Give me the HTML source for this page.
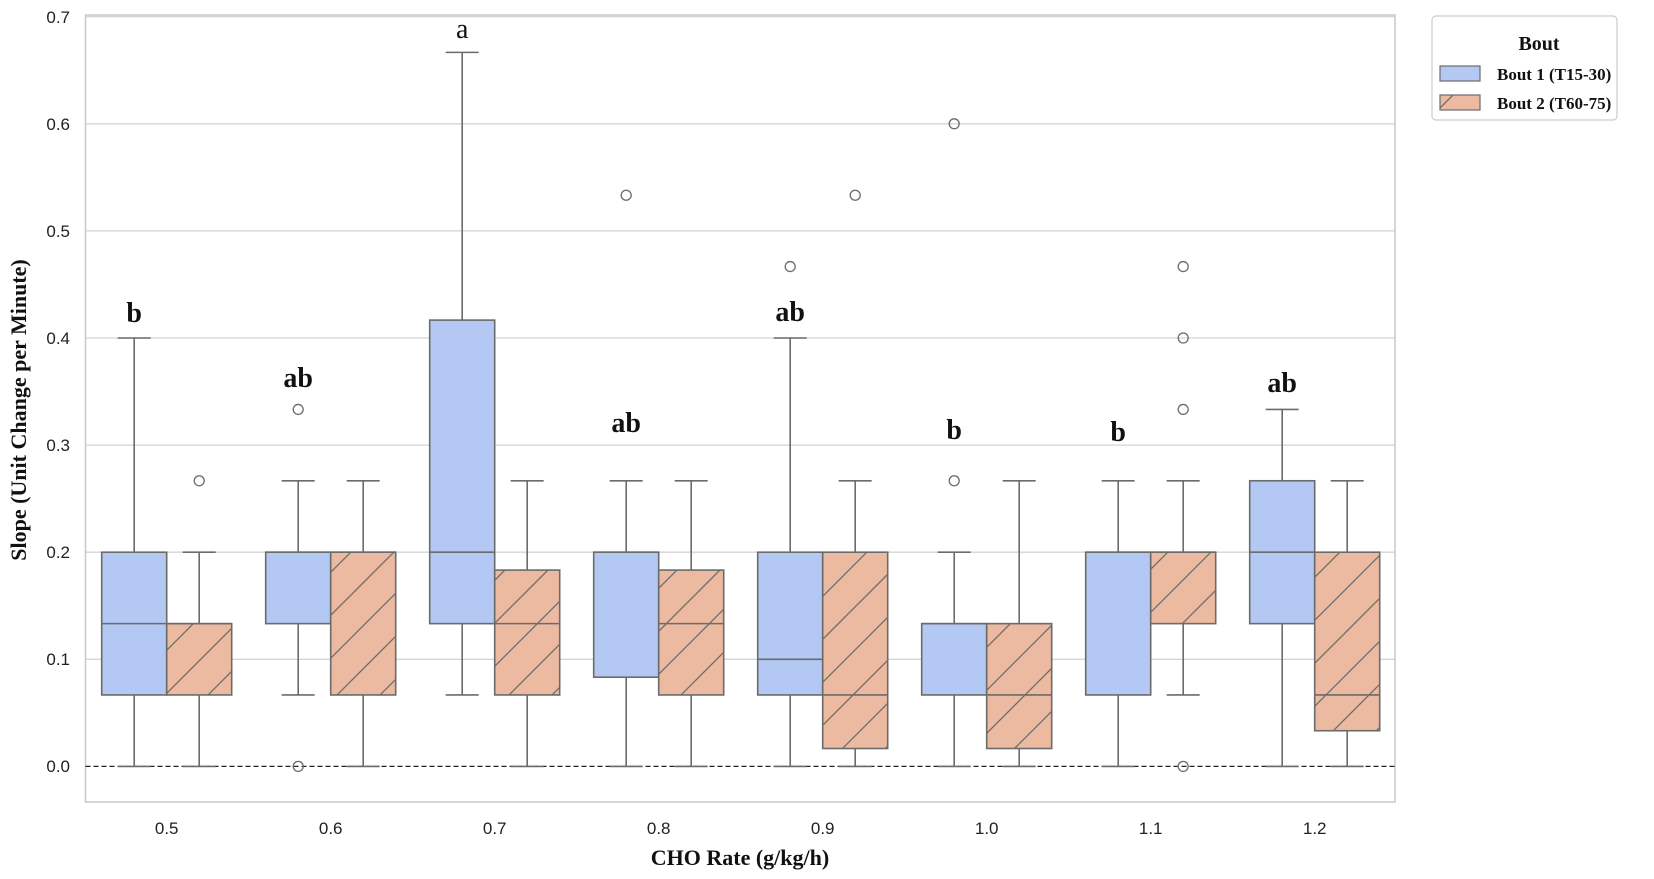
<!DOCTYPE html>
<html><head><meta charset="utf-8"><style>body{margin:0;background:#fff}svg{display:block}</style></head>
<body>
<svg id="s" width="1654" height="879" xmlns="http://www.w3.org/2000/svg">
<defs>
<pattern id="h" patternUnits="userSpaceOnUse" width="43" height="43" x="0" y="0">
<rect width="43" height="43" fill="#ecb9a1"/>
<path d="M-5,48 L48,-5" stroke="#6b6b6b" stroke-width="1.3"/>
<path d="M-48,48 L5,-5" stroke="#6b6b6b" stroke-width="1.3"/>
<path d="M38,48 L91,-5" stroke="#6b6b6b" stroke-width="1.3"/>
</pattern>
</defs>
<g id="grid"></g>
<rect x="85.5" y="15" width="1309.5" height="787" fill="none" stroke="#c8c8c8" stroke-width="1.5"/>
<line x1="85.5" x2="1395" y1="766.4" y2="766.4" stroke="#222" stroke-width="1.2" stroke-dasharray="5,3"/>
<g id="boxes"></g>
<g font-family="Liberation Sans, sans-serif" font-size="17" fill="#222" text-anchor="end">
<text x="70" y="772">0.0</text><text x="70" y="665">0.1</text><text x="70" y="558">0.2</text><text x="70" y="451">0.3</text><text x="70" y="344">0.4</text><text x="70" y="237">0.5</text><text x="70" y="130">0.6</text><text x="70" y="23">0.7</text>
</g>
<g font-family="Liberation Sans, sans-serif" font-size="17" fill="#222" text-anchor="middle">
<text x="166.7" y="834">0.5</text><text x="330.7" y="834">0.6</text><text x="494.7" y="834">0.7</text><text x="658.7" y="834">0.8</text><text x="822.7" y="834">0.9</text><text x="986.7" y="834">1.0</text><text x="1150.7" y="834">1.1</text><text x="1314.7" y="834">1.2</text>
</g>
<text x="740" y="865" font-family="Liberation Serif, serif" font-weight="bold" font-size="22" text-anchor="middle" fill="#111">CHO Rate (g/kg/h)</text>
<text transform="translate(26,410) rotate(-90)" font-family="Liberation Serif, serif" font-weight="bold" font-size="22" text-anchor="middle" fill="#111">Slope (Unit Change per Minute)</text>
<g font-family="Liberation Serif, serif" font-weight="bold" font-size="28" text-anchor="middle" fill="#111">
<text x="134.2" y="322">b</text><text x="298.2" y="387">ab</text><text x="462.2" y="38" font-weight="normal">a</text><text x="626.2" y="432">ab</text><text x="790.2" y="321">ab</text><text x="954.2" y="439">b</text><text x="1118.2" y="441">b</text><text x="1282.2" y="392">ab</text>
</g>
<rect x="1432" y="16" width="185" height="104" rx="4" fill="#fff" stroke="#ccc" stroke-width="1.2"/>
<text x="1539" y="50" font-family="Liberation Serif, serif" font-weight="bold" font-size="20" text-anchor="middle" fill="#111">Bout</text>
<rect x="1440" y="66" width="40" height="15" fill="#b3c8f2" stroke="#6b6b6b" stroke-width="1.2"/>
<rect x="1440" y="95" width="40" height="15" fill="url(#h)" stroke="#6b6b6b" stroke-width="1.2"/>
<g font-family="Liberation Serif, serif" font-weight="bold" font-size="17" fill="#111">
<text x="1497" y="80">Bout 1 (T15-30)</text><text x="1497" y="109">Bout 2 (T60-75)</text>
</g>
</svg>
<script>
const Y=v=>766.4-v*1071;
const g=document.getElementById('grid'),b=document.getElementById('boxes');
let s='';for(let i=1;i<=7;i++)s+=`<line x1="85.5" x2="1395" y1="${Y(i/10)}" y2="${Y(i/10)}" stroke="#d4d4d4" stroke-width="1.3"/>`;g.innerHTML=s;
const D=[
[[.0667,.1333,.2,0,.4,[]],[.0667,.1333,.1333,0,.2,[.2667]]],
[[.1333,.2,.2,.0667,.2667,[.3333,0]],[.0667,.2,.2,0,.2667,[]]],
[[.1333,.2,.4167,.0667,.6667,[]],[.0667,.1333,.1833,0,.2667,[]]],
[[.0833,.2,.2,0,.2667,[.5333]],[.0667,.1333,.1833,0,.2667,[]]],
[[.0667,.1,.2,0,.4,[.4667]],[.0167,.0667,.2,0,.2667,[.5333]]],
[[.0667,.1333,.1333,0,.2,[.2667,.6]],[.0167,.0667,.1333,0,.2667,[]]],
[[.0667,.2,.2,0,.2667,[]],[.1333,.2,.2,.0667,.2667,[.3333,.4,.4667,0]]],
[[.1333,.2,.2667,0,.3333,[]],[.0333,.0667,.2,0,.2667,[]]]];
let o='';const st='stroke="#6b6b6b" stroke-width="1.6"';
D.forEach((c,i)=>{const cx=166.7+164*i;c.forEach((d,j)=>{const x0=j?cx:cx-65,m=x0+32.5;const[q1,md,q3,wl,wh,out]=d;
o+=`<line x1="${m}" x2="${m}" y1="${Y(q3)}" y2="${Y(wh)}" ${st}/><line x1="${m}" x2="${m}" y1="${Y(q1)}" y2="${Y(wl)}" ${st}/>`;
o+=`<line x1="${m-16.5}" x2="${m+16.5}" y1="${Y(wh)}" y2="${Y(wh)}" ${st}/><line x1="${m-16.5}" x2="${m+16.5}" y1="${Y(wl)}" y2="${Y(wl)}" ${st}/>`;
o+=`<rect x="${x0}" y="${Y(q3)}" width="65" height="${Y(q1)-Y(q3)}" fill="${j?'url(#h)':'#b3c8f2'}" ${st}/>`;
o+=`<line x1="${x0}" x2="${x0+65}" y1="${Y(md)}" y2="${Y(md)}" ${st}/>`;
out.forEach(v=>o+=`<circle cx="${m}" cy="${Y(v)}" r="5" fill="none" stroke="#6b6b6b" stroke-width="1.3"/>`);});});
b.innerHTML=o;
</script>
</body></html>
